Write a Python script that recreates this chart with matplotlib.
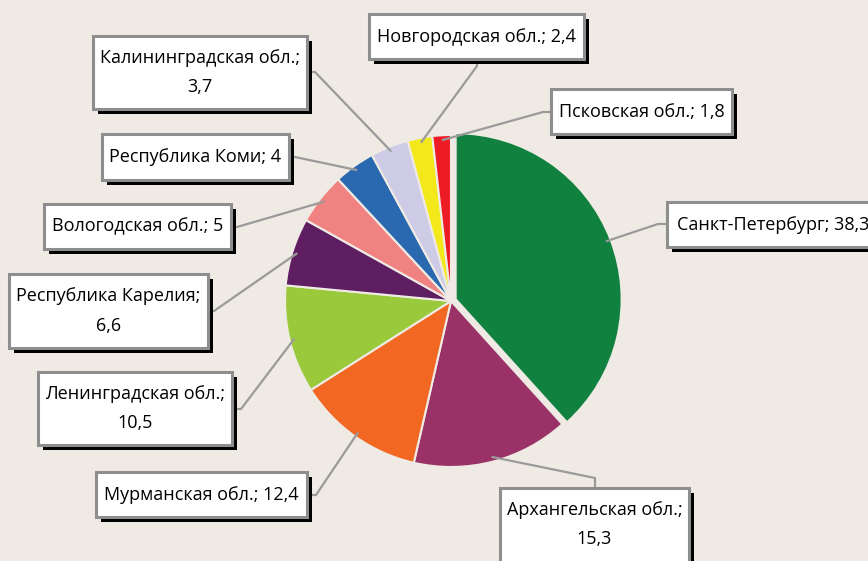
import numpy as np
import matplotlib.pyplot as plt
from matplotlib.patches import Rectangle

# ---------- Data ----------
names = ["Санкт-Петербург", "Архангельская обл.", "Мурманская обл.",
         "Ленинградская обл.", "Республика Карелия", "Вологодская обл.",
         "Республика Коми", "Калининградская обл.", "Новгородская обл.",
         "Псковская обл."]
values = [38.3, 15.3, 12.4, 10.5, 6.6, 5.0, 4.0, 3.7, 2.4, 1.8]
colors = ["#10813f", "#9a3268", "#f26722", "#9bc93c", "#5f1e62",
          "#f08282", "#2a68b0", "#cecbe6", "#f3e81a", "#ed1c24"]
wrap = [False, True, False, True, True, False, False, True, False, False]

# ---------- Layout (pixels, y from top) ----------
W, H = 868, 561
BG = "#efebe4"
cx, cy, R = 451, 301, 166
explode = [5, 0, 0, 0, 0, 0, 0, 0, 0, 0]

# label boxes: x0, y0, x1, y1
boxes = [(667, 202, 880, 247), (500, 488, 689, 575), (96, 472, 307, 517),
         (38, 372, 232, 445), (9, 274, 208, 348), (44, 204, 231, 249),
         (102, 134, 289, 180), (93, 36, 307, 109), (369, 14, 584, 59),
         (551, 89, 732, 134)]
# leader line: elbow point then box attach point
leaders = [((658, 224), (667, 224)), ((595, 478), (595, 488)),
           ((316, 495), (307, 495)), ((241, 409), (232, 409)),
           ((214, 311), (208, 311)), ((237, 227), (231, 227)),
           ((295, 157), (289, 157)), ((315, 72), (307, 72)),
           ((477, 66), (477, 59)), ((543, 112), (551, 112))]

plt.rcParams['font.family'] = ['Open Sans', 'DejaVu Sans']

fig = plt.figure(figsize=(W / 100, H / 100), dpi=100, facecolor=BG)
ax = fig.add_axes([0, 0, 1, 1])
ax.set_facecolor(BG)

wedges, _ = ax.pie(values, colors=colors, startangle=90, counterclock=False,
                   center=(cx, H - cy), radius=R, explode=explode,
                   wedgeprops=dict(edgecolor=BG, linewidth=1.5))
ax.set_xlim(0, W)
ax.set_ylim(0, H)
ax.set_aspect('equal')
ax.axis('off')

for w, name, v, wr, box, (elb, att) in zip(wedges, names, values, wrap, boxes, leaders):
    # anchor on the wedge edge at its mid angle
    ang = np.deg2rad((w.theta1 + w.theta2) / 2)
    wx, wy = w.center
    px = wx + 0.97 * R * np.cos(ang)
    py = wy + 0.97 * R * np.sin(ang)
    ax.plot([px, elb[0], att[0]], [py, H - elb[1], H - att[1]],
            color="#9a9a9a", lw=1.6, zorder=3, solid_capstyle='butt')

    x0, y0, x1, y1 = box
    ax.add_patch(Rectangle((x0 + 5, H - y1 - 5), x1 - x0, y1 - y0,
                           facecolor="black", edgecolor="none", zorder=4))
    ax.add_patch(Rectangle((x0, H - y1), x1 - x0, y1 - y0,
                           facecolor="white", edgecolor="#8e8e8e", lw=2.2, zorder=5))
    val = f"{v:g}".replace('.', ',')
    txt = f"{name};\n{val}" if wr else f"{name}; {val}"
    ty = (y0 + y1) / 2
    if box[3] > H:
        ty = y0 + 36.5
    ax.text((x0 + x1) / 2, H - ty, txt, ha='center', va='center',
            fontsize=13, color="black", linespacing=1.85, zorder=6)

fig.savefig("out.png", dpi=100, facecolor=BG)
